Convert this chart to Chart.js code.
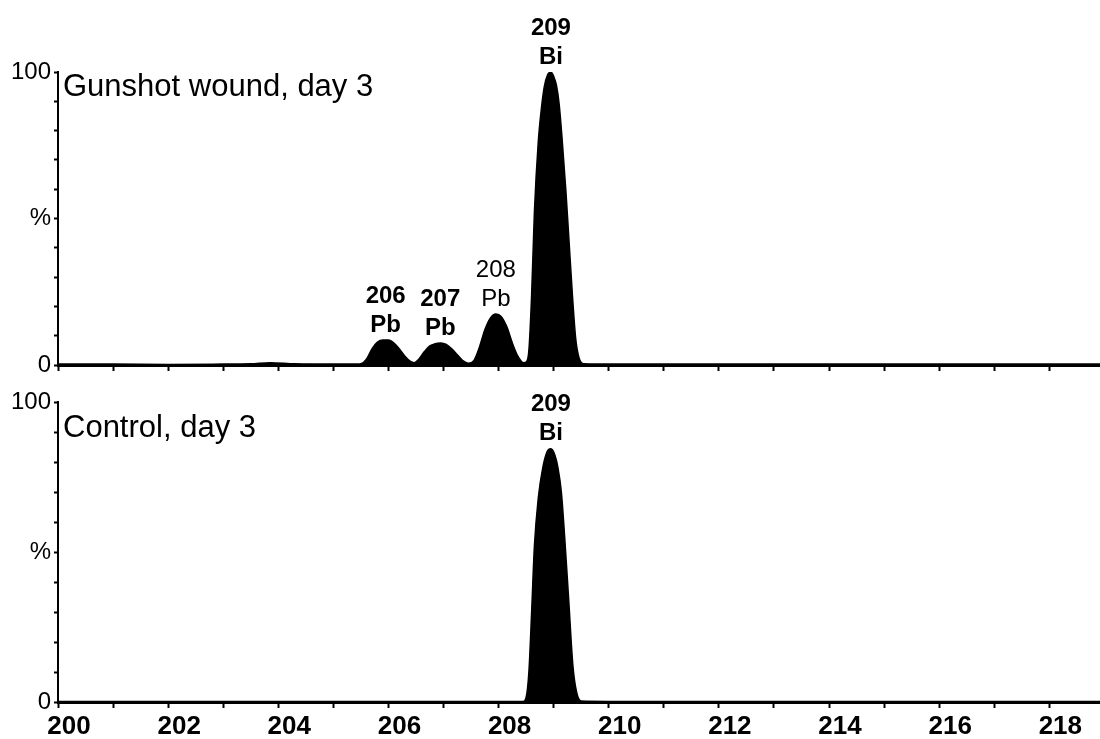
<!DOCTYPE html>
<html>
<head>
<meta charset="utf-8">
<script src="https://cdn.jsdelivr.net/npm/chart.js@4.4.1/dist/chart.umd.min.js"></script>
<style>
body { margin: 0; background: #fff; width: 1100px; height: 739px; position: relative; overflow: hidden; }
canvas { position: absolute; left: 0; }
#topChart { top: 0; }
#botChart { top: 385px; }
</style>
</head>
<body>
<canvas id="topChart" width="1100" height="385"></canvas>
<canvas id="botChart" width="1100" height="354"></canvas>
<script>
// m/z axis
const mzMin = 200;
const mzMax = 218.92;
const mzTicks = [200, 201, 202, 203, 204, 205, 206, 207, 208, 209, 210,
  211, 212, 213, 214, 215, 216, 217, 218];
const pctTicks = [0, 10, 20, 30, 40, 50, 60, 70, 80, 90, 100];

// top panel: gunshot wound, day 3 (% of 209Bi peak)
const mzTop = [200, 201, 202, 203, 203.5, 203.85, 204.3, 205, 205.45,
  205.5, 205.6, 205.7, 205.8, 205.9, 206.0, 206.1, 206.2, 206.3, 206.4, 206.47,
  206.55, 206.65, 206.75, 206.85, 206.95, 207.05, 207.15, 207.25, 207.35, 207.45,
  207.55, 207.65, 207.75, 207.85, 207.95, 208.05, 208.15, 208.25, 208.35, 208.45,
  208.5, 208.55, 208.6, 208.65, 208.72, 208.78, 208.83, 208.89, 208.95, 209.0,
  209.05, 209.1, 209.15, 209.22, 209.28, 209.34, 209.4, 209.46, 209.55,
  210, 212, 214, 216, 218, 219];
const pctTop = [0.3, 0.3, 0.2, 0.3, 0.4, 0.8, 0.4, 0.3, 0.3,
  0.4, 2, 5.5, 7.8, 8.5, 8.5, 7.5, 5.5, 3, 1.2, 0.8,
  2, 4.5, 6.5, 7.3, 7.5, 7, 5.5, 3.5, 1.5, 0.6,
  1.5, 6, 12, 16, 17.4, 16.5, 13, 7.5, 3, 0.8,
  1, 5, 24, 52, 76, 88, 95, 99, 100, 98.5,
  95.5, 89, 78, 60, 42, 24, 9, 2.5, 0.4,
  0.3, 0.3, 0.3, 0.3, 0.3, 0.3];

// bottom panel: control, day 3
const mzBot = [200, 204, 208, 208.45, 208.5, 208.55, 208.6, 208.65, 208.72, 208.8,
  208.88, 208.95, 209.02, 209.08, 209.14, 209.2, 209.27, 209.35, 209.42, 209.5,
  210, 214, 219];
const pctBot = [0.2, 0.2, 0.2, 0.2, 1.5, 10, 30, 52, 68, 78,
  83.5, 84.5, 82.5, 78, 70, 55, 35, 12, 3, 0.3,
  0.2, 0.2, 0.2];

// peak labels
const topPeakMz = [205.95, 206.94, 207.95, 208.95];
const topPeakPct = [8.5, 7.5, 17.4, 100];
const topPeakNum = ['206', '207', '208', '209'];
const topPeakSym = ['Pb', 'Pb', 'Pb', 'Bi'];
const topPeakBold = [true, true, false, true];

const botPeakMz = [208.95];
const botPeakPct = [84.5];
const botPeakNum = ['209'];
const botPeakSym = ['Bi'];
const botPeakBold = [true];

const FONT = '"Liberation Sans", Arial, sans-serif';

const peakText = {
  id: 'peakText',
  afterDatasetsDraw(chart, args, o) {
    const ctx = chart.ctx;
    const a = chart.chartArea;
    const x = chart.scales.x, y = chart.scales.y;
    ctx.save();
    ctx.fillStyle = '#000';
    ctx.textAlign = 'left';
    ctx.textBaseline = 'alphabetic';
    ctx.font = '31px ' + FONT;
    ctx.fillText(o.title, a.left + 5, a.top + o.titleDrop);
    ctx.textAlign = 'center';
    ctx.textBaseline = 'middle';
    o.mz.forEach(function (m, i) {
      const px = x.getPixelForValue(m);
      const py = y.getPixelForValue(o.pct[i]);
      ctx.font = (o.bold[i] ? 'bold ' : '') + '24px ' + FONT;
      ctx.fillText(o.num[i], px, py - 44);
      ctx.fillText(o.sym[i], px, py - 15);
    });
    ctx.restore();
  }
};

function makePanel(id, mz, pct, xHeight, padTop, showLabels, text) {
  const ctx = document.getElementById(id).getContext('2d');
  return new Chart(ctx, {
    type: 'line',
    data: {
      datasets: [{
        data: mz.map(function (m, i) { return { x: m, y: pct[i] }; }),
        fill: 'origin',
        backgroundColor: '#000',
        borderColor: '#000',
        borderWidth: 1.5,
        pointRadius: 0,
        cubicInterpolationMode: 'monotone'
      }]
    },
    options: {
      responsive: false,
      animation: false,
      devicePixelRatio: 1,
      layout: { padding: { top: padTop, left: 0, right: 0, bottom: 0 } },
      plugins: {
        legend: { display: false },
        tooltip: { enabled: false },
        peakText: text
      },
      scales: {
        x: {
          type: 'linear',
          min: mzMin,
          max: mzMax,
          afterFit: function (s) { s.height = xHeight; },
          afterBuildTicks: function (s) {
            s.ticks = mzTicks.map(function (v) { return { value: v }; });
          },
          border: { display: true, color: '#000', width: 3 },
          grid: { drawOnChartArea: false, drawTicks: true, tickLength: 6, tickWidth: 2, color: '#000' },
          ticks: {
            autoSkip: false,
            maxRotation: 0,
            labelOffset: 11,
            padding: 3,
            color: '#000',
            font: { family: FONT, size: 26, weight: 'bold' },
            callback: function (v) { return showLabels && v % 2 === 0 ? String(v) : ''; }
          }
        },
        y: {
          min: 0,
          max: 100,
          afterFit: function (s) { s.width = 58; },
          afterBuildTicks: function (s) {
            s.ticks = pctTicks.map(function (v) { return { value: v }; });
          },
          border: { display: true, color: '#000', width: 2 },
          grid: { drawOnChartArea: false, drawTicks: true, tickLength: 4, tickWidth: 2, color: '#000' },
          ticks: {
            autoSkip: false,
            padding: 3,
            color: '#000',
            font: { family: FONT, size: 24 },
            callback: function (v) {
              if (v === 100) return '100';
              if (v === 50) return '%';
              if (v === 0) return '0';
              return '';
            }
          }
        }
      }
    },
    plugins: [peakText]
  });
}

makePanel('topChart', mzTop, pctTop, 20, 72, false, {
  title: 'Gunshot wound, day 3', titleDrop: 24,
  mz: topPeakMz, pct: topPeakPct, num: topPeakNum, sym: topPeakSym, bold: topPeakBold
});
makePanel('botChart', mzBot, pctBot, 37, 13, true, {
  title: 'Control, day 3', titleDrop: 35,
  mz: botPeakMz, pct: botPeakPct, num: botPeakNum, sym: botPeakSym, bold: botPeakBold
});
</script>
</body>
</html>
